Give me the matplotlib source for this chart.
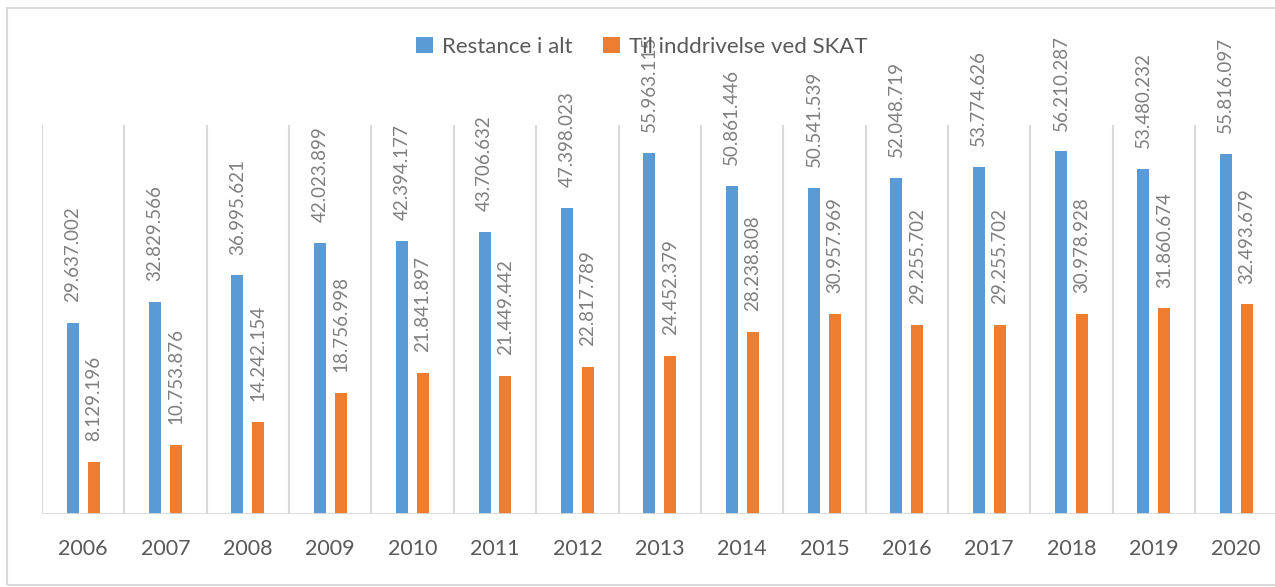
import matplotlib.pyplot as plt
import matplotlib.patches as mpatches
import numpy as np

# Data (millions, Danish thousands separators in labels)
years = ['2006', '2007', '2008', '2009', '2010', '2011', '2012', '2013',
         '2014', '2015', '2016', '2017', '2018', '2019', '2020']
restance = [29.637002, 32.829566, 36.995621, 42.023899, 42.394177, 43.706632,
            47.398023, 55.963115, 50.861446, 50.541539, 52.048719, 53.774626,
            56.210287, 53.480232, 55.816097]
inddrivelse = [8.129196, 10.753876, 14.242154, 18.756998, 21.841897, 21.449442,
               22.817789, 24.452379, 28.238808, 30.957969, 29.255702, 29.255702,
               30.978928, 31.860674, 32.493679]
restance_labels = ['29.637.002', '32.829.566', '36.995.621', '42.023.899',
                   '42.394.177', '43.706.632', '47.398.023', '55.963.115',
                   '50.861.446', '50.541.539', '52.048.719', '53.774.626',
                   '56.210.287', '53.480.232', '55.816.097']
inddrivelse_labels = ['8.129.196', '10.753.876', '14.242.154', '18.756.998',
                      '21.841.897', '21.449.442', '22.817.789', '24.452.379',
                      '28.238.808', '30.957.969', '29.255.702', '29.255.702',
                      '30.978.928', '31.860.674', '32.493.679']

blue = '#5B9BD5'
orange = '#ED7D31'
grid_col = '#D9D9D9'

plt.rcParams['font.family'] = ['Lato', 'DejaVu Sans']

W, H = 1275, 587
fig = plt.figure(figsize=(W / 100, H / 100), dpi=100)

# outer chart border
fig.patches.append(mpatches.Rectangle((7 / W, 1 - 585 / H), 1.0, (585 - 8) / H,
                                      transform=fig.transFigure, fill=False,
                                      edgecolor=grid_col, linewidth=1.5))

# plot area: x from 42px, categories 82.36px wide; y from 125px to 514px
cat_w = 82.36
ax = fig.add_axes([42 / W, 1 - 514 / H, 15 * cat_w / W, (514 - 125) / H])
ax.set_xlim(-0.5, 14.5)
ax.set_ylim(0, (514 - 125) / 6.45)

x = np.arange(len(years))
bw = 0.146
off = 0.127
ax.bar(x - off, restance, bw, color=blue, label='Restance i alt', zorder=2)
ax.bar(x + off, inddrivelse, bw, color=orange, label='Til inddrivelse ved SKAT', zorder=2)

# vertical separators between categories
for b in np.arange(-0.5, 14.5, 1.0):
    ax.axvline(b, color=grid_col, linewidth=1.5, zorder=1)
ax.axhline(0, color=grid_col, linewidth=2, zorder=3)

for s in ax.spines.values():
    s.set_visible(False)
ax.set_yticks([])
ax.set_xticks(x)
ax.set_xticklabels(years, fontsize=15.5, color='#595959')
ax.tick_params(axis='x', length=0, pad=18)

# value labels
for xi, v, lab in zip(x, restance, restance_labels):
    ax.annotate(lab, (xi - off, v), xytext=(0, 15), textcoords='offset points',
                rotation=90, ha='center', va='bottom', fontsize=13.5,
                color='#7F7F7F', annotation_clip=False, zorder=5)
for xi, v, lab in zip(x, inddrivelse, inddrivelse_labels):
    ax.annotate(lab, (xi + off, v), xytext=(0, 15), textcoords='offset points',
                rotation=90, ha='center', va='bottom', fontsize=13.5,
                color='#7F7F7F', annotation_clip=False, zorder=5)

leg = fig.legend(loc='center', bbox_to_anchor=(642 / W, 1 - 47 / H), ncol=2,
                 frameon=False, fontsize=16, handlelength=0.75, handleheight=0.75,
                 handletextpad=0.4, columnspacing=1.4)
for t in leg.get_texts():
    t.set_color('#595959')
leg.set_zorder(0)

fig.savefig('out.png', dpi=100)
